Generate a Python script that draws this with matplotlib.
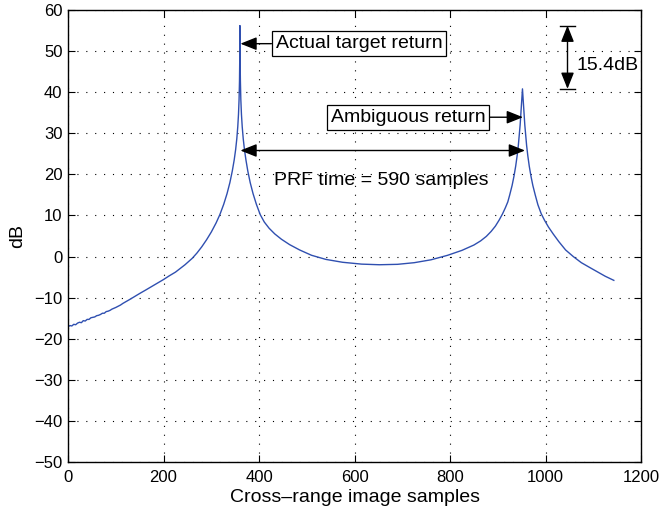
import numpy as np
import matplotlib
matplotlib.use("Agg")
import matplotlib.pyplot as plt

plt.rcParams['font.family'] = ['Liberation Sans', 'DejaVu Sans']

# cross-range cut through the image, in dB
samples = [0, 4, 8, 12, 16, 20, 24, 28, 32, 36, 40, 44, 48, 52, 56, 60, 64,
           68, 72, 76, 80, 84, 88, 92, 96, 100, 105, 110, 115, 121, 130, 140,
           150, 162, 175, 187, 200, 212, 225, 235, 245, 260, 270, 280, 290,
           300, 310, 318, 326, 333, 339, 344, 348, 351, 353.5, 355.5, 357,
           358.2, 359.1, 359.6, 360,
           360.4, 361, 361.9, 363.2, 364.8, 366.9, 369.5, 372.6, 376.5, 381.5,
           387.5, 394.5, 402.5, 411, 421, 433, 447, 464, 485, 510, 540, 575,
           615, 652, 690, 725, 760, 795, 825, 850, 864, 876, 886, 895, 903,
           910, 916, 921, 925, 930, 934, 937.5, 940.5, 943, 945, 946.8, 948.3,
           949.6, 950.6, 951.7,
           952.8, 953.8, 955.1, 956.6, 958.4, 960.4, 962.9, 965.9, 969.4,
           973.4, 978.4, 984, 991, 998, 1006, 1016, 1028, 1042, 1058, 1075,
           1093, 1110, 1125, 1143]
level_db = [-17.1, -16.8, -16.9, -16.5, -16.6, -16.2, -16.0, -16.1, -15.6,
            -15.7, -15.3, -15.3, -14.9, -14.8, -14.7, -14.4, -14.3, -14.1,
            -13.8, -13.8, -13.4, -13.3, -13.1, -12.8, -12.6, -12.4, -12.1,
            -11.8, -11.4, -11.0, -10.4, -9.7, -9.0, -8.2, -7.3, -6.5, -5.6,
            -4.7, -3.8, -2.9, -2.0, -0.45, 0.85, 2.35, 4.05, 5.95, 8.15, 10.2,
            12.7, 15.3, 18.0, 20.8, 23.5, 26.0, 28.7, 31.6, 34.6, 38.2, 42.7,
            47.7, 56.2,
            47.7, 42.7, 38.2, 34.6, 31.6, 28.7, 26.0, 23.5, 20.8, 18.0, 15.3,
            12.7, 10.2, 8.4, 6.9, 5.5, 4.2, 2.9, 1.6, 0.3, -0.7, -1.4, -1.85,
            -2.0, -1.9, -1.5, -0.8, 0.3, 1.5, 2.8, 3.8, 4.9, 6.1, 7.4, 8.9,
            10.4, 11.9, 13.3, 15.0, 17.3, 19.6, 22.0, 24.5, 27.0, 29.5, 32.0,
            34.5, 37.0, 38.8, 40.8,
            38.8, 37.0, 34.5, 32.0, 29.5, 27.0, 24.5, 22.0, 19.6, 17.3, 15.0,
            12.6, 10.4, 8.8, 7.2, 5.5, 3.6, 1.6, 0.0, -1.5, -2.7, -3.8, -4.8,
            -5.8]

true_peak = (360, 56.2)
ghost_peak = (951.7, 40.8)
prf_samples = 590
arrow_db = 25.8

fig = plt.figure(figsize=(6.61, 5.14), dpi=100)
ax = fig.add_axes([0.1029, 0.1012, 0.8669, 0.8794])

ax.plot(samples, level_db, color='#2f4fb0', linewidth=1.0)

ax.set_xlim(0, 1200)
ax.set_ylim(-50, 60)
ax.set_xticks(np.arange(0, 1201, 200))
ax.set_yticks(np.arange(-50, 61, 10))
ax.grid(True, color='black', linestyle=(0, (1, 7)), linewidth=0.8)
ax.tick_params(direction='in', top=True, right=True, length=5, labelsize=12,
               pad=6)
ax.tick_params(axis='y', pad=4)
for s in ax.spines.values():
    s.set_linewidth(1.0)
ax.set_xlabel('Cross\u2013range image samples', fontsize=14, labelpad=3)
ax.set_ylabel('dB', fontsize=14, labelpad=6)

arrow = dict(arrowstyle='-|>,head_length=0.55,head_width=0.22',
             color='black', lw=1.0, mutation_scale=18, shrinkA=0, shrinkB=0)
both = dict(arrowstyle='<|-|>,head_length=0.55,head_width=0.22',
            color='black', lw=1.0, mutation_scale=18, shrinkA=0, shrinkB=0)
box = dict(boxstyle='square,pad=0.2', fc='white', ec='black', lw=0.9)

ax.annotate('Actual target return', xy=(true_peak[0] + 1, 51.8),
            xytext=(435, 51.8), ha='left', va='center', fontsize=14,
            bbox=box, arrowprops=arrow)
ax.annotate('Ambiguous return', xy=(ghost_peak[0] + 1, 33.9),
            xytext=(874, 33.9), ha='right', va='center', fontsize=14,
            bbox=box, arrowprops=arrow)

# PRF spacing between the true and the ghost return
ax.annotate('', xy=(true_peak[0] + prf_samples + 7, arrow_db),
            xytext=(true_peak[0] + 1, arrow_db), arrowprops=both)
ax.text(432, 18.4, 'PRF time = %d samples' % prf_samples,
        ha='left', va='center', fontsize=14)

# level difference between the two peaks
gap = true_peak[1] - ghost_peak[1]
ax.annotate('', xy=(1046, ghost_peak[1]), xytext=(1046, true_peak[1]),
            arrowprops=both)
for lvl in (true_peak[1], ghost_peak[1]):
    ax.plot([1030, 1062], [lvl, lvl], color='black', lw=1.0)
ax.text(1064, 46.5, '%.1fdB' % gap, ha='left', va='center', fontsize=14)

fig.savefig('out.png', dpi=100)
